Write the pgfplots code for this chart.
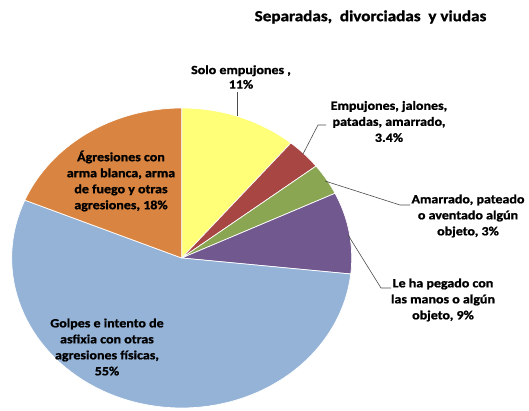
\documentclass[border=0pt]{standalone}
\usepackage{pgfplots}
\pgfplotsset{compat=1.18}
\usepackage{fontspec}
\setmainfont{Carlito}
\newfontfamily\heavy{Carlito}[BoldFeatures={FakeBold=1.2}]
\definecolor{cYel}{RGB}{255,255,120}
\definecolor{cRed}{RGB}{168,70,68}
\definecolor{cGrn}{RGB}{139,166,82}
\definecolor{cPur}{RGB}{113,88,143}
\definecolor{cBlu}{RGB}{149,179,215}
\definecolor{cOra}{RGB}{217,133,65}
% slice values (percent), clockwise from 12 o'clock
\def\vA{11.1}\def\vB{3.4}\def\vC{3.4}\def\vD{8.8}\def\vE{54.6}\def\vF{18.7}
\pgfmathsetmacro{\aA}{90}
\pgfmathsetmacro{\aB}{\aA-3.6*\vA}
\pgfmathsetmacro{\aC}{\aB-3.6*\vB}
\pgfmathsetmacro{\aD}{\aC-3.6*\vC}
\pgfmathsetmacro{\aE}{\aD-3.6*\vD}
\pgfmathsetmacro{\aF}{\aE-3.6*\vE}
\pgfmathsetmacro{\aG}{\aF-3.6*\vF}
\def\cx{181.7}\def\cy{-258}\def\rx{170}\def\ry{150}
\newcommand{\slice}[3]{%
  \addplot[fill=#1, draw=white, line width=0.7pt, domain=#2:#3, samples=80, variable=\t]
    ({\cx+\rx*cos(t)},{\cy+\ry*sin(t)}) -- (axis cs:\cx,\cy) -- cycle;}
\begin{document}
\begin{tikzpicture}
\begin{axis}[
  width=529pt, height=410pt, scale only axis,
  xmin=0, xmax=529, ymin=-410, ymax=0,
  hide axis, clip=false,
]
\slice{cYel}{\aB}{\aA}
\slice{cRed}{\aC}{\aB}
\slice{cGrn}{\aD}{\aC}
\slice{cPur}{\aE}{\aD}
\slice{cBlu}{\aF}{\aE}
\slice{cOra}{\aG}{\aF}
% leader lines
\draw[gray!60!black, line width=0.6pt] (axis cs:237,-92) -- (axis cs:237,-116);
\draw[gray!60!black, line width=0.6pt] (axis cs:303,-154) -- (axis cs:318,-125) -- (axis cs:326,-125);
\draw[gray!60!black, line width=0.6pt] (axis cs:325,-181) -- (axis cs:400,-205) -- (axis cs:410,-205);
\draw[gray!60!black, line width=0.6pt] (axis cs:348,-235) -- (axis cs:381,-288) -- (axis cs:391,-288);
% labels
\begin{scope}[every node/.style={font=\heavy\bfseries\fontsize{12.5}{16}\selectfont, align=center, inner sep=0pt, xscale=1.12}]
\node[font=\heavy\bfseries\fontsize{15.3}{16}\selectfont] at (axis cs:370.5,-17) {Separadas,\ \ divorciadas\ \ y viudas};
\node[font=\heavy\bfseries\fontsize{12.5}{14.5}\selectfont] at (axis cs:241,-77) {Solo empujones ,\\11\%};
\node at (axis cs:389,-121.5) {Empujones, jalones,\\patadas, amarrado,\\3.4\%};
\node at (axis cs:468,-216) {Amarrado, pateado\\o aventado algún\\objeto, 3\%};
\node at (axis cs:443,-300) {Le ha pegado con\\las manos o algún\\objeto, 9\%};
\node at (axis cs:121,-181) {Ágresiones con\\arma blanca, arma\\de fuego y otras\\agresiones, 18\%};
\node at (axis cs:107,-347) {Golpes e intento de\\asfixia con otras\\agresiones físicas,\\55\%};
\end{scope}
\end{axis}
\path (current axis.south west) rectangle (current axis.north east);
\end{tikzpicture}
\end{document}
